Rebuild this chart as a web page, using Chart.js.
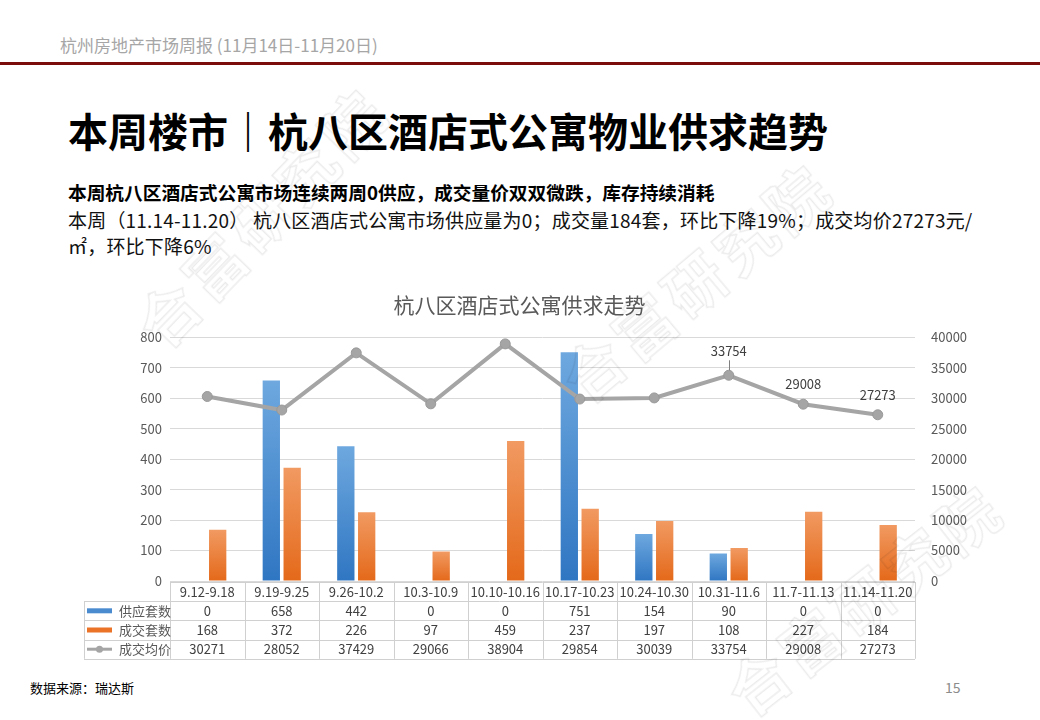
<!DOCTYPE html>
<html>
<head>
<meta charset="utf-8">
<script src="https://cdn.jsdelivr.net/npm/chart.js@4.4.0/dist/chart.umd.min.js"></script>
<style>
body{margin:0;width:1040px;height:720px;position:relative;overflow:hidden;background:#fff;font-family:"Noto Sans CJK SC","Microsoft YaHei",sans-serif;}
.t{position:absolute;white-space:nowrap;}
#head{left:60px;top:34px;font-size:17px;line-height:22px;color:#a6a6a6;}
#rule{position:absolute;left:0;top:62px;width:1040px;height:3px;background:#7a0c0c;}
#title{left:68px;top:104px;font-size:40px;line-height:52px;font-weight:bold;color:#000;}
#sub{left:68px;top:179px;font-size:18.7px;line-height:26px;font-weight:bold;color:#000;}
#body{left:68px;top:207px;font-size:19px;line-height:26px;letter-spacing:0.2px;color:#111;}
#src{left:30px;top:680px;font-size:13px;line-height:16px;color:#000;}
#page{left:945px;top:678px;font-size:14px;line-height:18px;color:#8c8c8c;}
#box{position:absolute;left:0;top:280px;width:1040px;height:390px;}
.wm{position:absolute;font-size:60px;font-weight:bold;color:rgba(255,255,255,0);-webkit-text-stroke:1.5px rgba(0,0,0,0.08);white-space:nowrap;letter-spacing:6px;pointer-events:none;z-index:5;}
</style>
</head>
<body>
<div class="t" id="head">杭州房地产市场周报 (11月14日-11月20日)</div>
<div id="rule"></div>
<div class="t" id="title">本周楼市｜杭八区酒店式公寓物业供求趋势</div>
<div class="t" id="sub">本周杭八区酒店式公寓市场连续两周0供应，成交量价双双微跌，库存持续消耗</div>
<div class="t" id="body">本周（11.14-11.20） 杭八区酒店式公寓市场供应量为0；成交量184套，环比下降19%；成交均价27273元/<br>㎡，环比下降6%</div>
<div id="box"><canvas id="myChart"></canvas></div>
<div class="t" id="src">数据来源：瑞达斯</div>
<div class="t" id="page">15</div>
<div class="wm" style="left:260px;top:215px;transform:translate(-50%,-50%) rotate(-46deg);">合富研究院</div>
<div class="wm" style="left:695px;top:280px;transform:translate(-50%,-50%) rotate(-40deg);">合富研究院</div>
<div class="wm" style="left:863px;top:597px;transform:translate(-50%,-50%) rotate(-38deg);">合富研究院</div>
<script>
// 周度数据
const categories = ["9.12-9.18", "9.19-9.25", "9.26-10.2", "10.3-10.9", "10.10-10.16", "10.17-10.23", "10.24-10.30", "10.31-11.6", "11.7-11.13", "11.14-11.20"];
const supplyUnits = [0, 658, 442, 0, 0, 751, 154, 90, 0, 0];
const dealUnits = [168, 372, 226, 97, 459, 237, 197, 108, 227, 184];
const avgPrice = [30271, 28052, 37429, 29066, 38904, 29854, 30039, 33754, 29008, 27273];
const seriesNames = ["供应套数", "成交套数", "成交均价"];
const labelledPoints = [7, 8, 9];

const FONT = "'Noto Sans CJK SC', 'Microsoft YaHei', sans-serif";
const ORANGE = "#ea7328", GREY = "#a5a5a5";

// 每根柱子上浅下深的渐变
function barFill(top, bottom) {
    return function (c) {
        const chart = c.chart, a = chart.chartArea;
        if (!a || !c.raw) return bottom;
        const y = chart.scales.y.getPixelForValue(c.raw);
        const g = chart.ctx.createLinearGradient(0, y, 0, a.bottom);
        g.addColorStop(0, top);
        g.addColorStop(1, bottom);
        return g;
    };
}

// 图表下方的数据表
const tablePlugin = {
    id: "dataTable",
    afterDraw(chart) {
        const ctx = chart.ctx, a = chart.chartArea;
        const n = categories.length;
        const w = (a.right - a.left) / n;
        const rowH = 19.2;
        const top = a.bottom + 1;
        const left = 84;
        const px = v => Math.round(v) + 0.5;
        ctx.save();
        ctx.strokeStyle = "#d0d0d0";
        ctx.lineWidth = 1;
        ctx.beginPath();
        for (let r = 0; r <= 4; r++) {
            const y = px(top + r * rowH);
            ctx.moveTo(r === 0 ? a.left : left, y);
            ctx.lineTo(a.right, y);
        }
        ctx.moveTo(px(left), top + rowH);
        ctx.lineTo(px(left), top + 4 * rowH);
        for (let i = 0; i <= n; i++) {
            const x = px(a.left + i * w);
            ctx.moveTo(x, top);
            ctx.lineTo(x, top + 4 * rowH);
        }
        ctx.stroke();

        ctx.font = "13px " + FONT;
        ctx.textBaseline = "middle";
        ctx.textAlign = "center";
        ctx.fillStyle = "#404040";
        const rows = [categories, supplyUnits, dealUnits, avgPrice];
        rows.forEach((vals, r) => {
            const y = top + r * rowH + rowH / 2;
            vals.forEach((v, i) => {
                ctx.fillText(String(v), chart.scales.x.getPixelForValue(i), y);
            });
        });

        // 图例
        ctx.textAlign = "left";
        seriesNames.forEach((name, k) => {
            const y = top + (k + 1) * rowH + rowH / 2;
            if (k < 2) {
                ctx.fillStyle = k === 0 ? "#4a8bd0" : ORANGE;
                ctx.fillRect(87, y - 2.5, 25, 5);
            } else {
                ctx.strokeStyle = GREY;
                ctx.lineWidth = 3;
                ctx.beginPath();
                ctx.moveTo(87, y);
                ctx.lineTo(112, y);
                ctx.stroke();
                ctx.fillStyle = GREY;
                ctx.beginPath();
                ctx.arc(99.5, y, 3.5, 0, Math.PI * 2);
                ctx.fill();
            }
            ctx.fillStyle = "#595959";
            ctx.fillText(name, 119, y);
        });
        ctx.restore();
    }
};

// 最后三周均价标签
const priceLabels = {
    id: "priceLabels",
    afterDatasetsDraw(chart) {
        const ctx = chart.ctx;
        const meta = chart.getDatasetMeta(2);
        ctx.save();
        ctx.font = "13px " + FONT;
        ctx.fillStyle = "#404040";
        ctx.textAlign = "center";
        ctx.textBaseline = "middle";
        labelledPoints.forEach((i, k) => {
            const pt = meta.data[i];
            let off = 20;
            if (k === 0) {
                off = 24;
                ctx.strokeStyle = "#808080";
                ctx.lineWidth = 1;
                ctx.beginPath();
                ctx.moveTo(Math.round(pt.x) + 0.5, pt.y - 15);
                ctx.lineTo(Math.round(pt.x) + 0.5, pt.y - 5);
                ctx.stroke();
            }
            ctx.fillText(String(avgPrice[i]), pt.x, pt.y - off);
        });
        ctx.restore();
    }
};

const data = {
    labels: categories,
    datasets: [
        {
            type: "bar",
            label: seriesNames[0],
            data: supplyUnits,
            yAxisID: "y",
            backgroundColor: barFill("#6ea8df", "#2f76c2"),
            categoryPercentage: 0.56,
            barPercentage: 0.83,
            order: 2
        },
        {
            type: "bar",
            label: seriesNames[1],
            data: dealUnits,
            yAxisID: "y",
            backgroundColor: barFill("#f19a62", "#e4691a"),
            categoryPercentage: 0.56,
            barPercentage: 0.83,
            order: 2
        },
        {
            type: "line",
            label: seriesNames[2],
            data: avgPrice,
            yAxisID: "y1",
            borderColor: GREY,
            borderWidth: 4,
            pointRadius: 5,
            pointBackgroundColor: GREY,
            pointBorderColor: "#999999",
            pointBorderWidth: 1,
            tension: 0,
            order: 0
        }
    ]
};

const tickStyle = {
    color: "#595959",
    font: { size: 13, family: FONT },
    padding: 8,
    callback: v => String(v)
};

const config = {
    data: data,
    options: {
        responsive: true,
        maintainAspectRatio: false,
        animation: false,
        layout: { padding: { left: 64, right: 65, top: 0, bottom: 9 } },
        plugins: {
            legend: { display: false },
            tooltip: { enabled: false },
            title: {
                display: true,
                text: "杭八区酒店式公寓供求走势",
                color: "#595959",
                font: { size: 21, family: FONT, weight: "normal" },
                padding: { top: 12, bottom: 20 }
            }
        },
        scales: {
            x: {
                grid: { display: false },
                border: { display: false },
                ticks: { display: false },
                afterFit(s) { s.height = 80; }
            },
            y: {
                position: "left",
                min: 0,
                max: 800,
                ticks: Object.assign({ stepSize: 100 }, tickStyle),
                grid: { color: "#d9d9d9", drawTicks: false },
                border: { display: false },
                afterFit(s) { s.width = 106; }
            },
            y1: {
                position: "right",
                min: 0,
                max: 40000,
                ticks: Object.assign({ stepSize: 5000 }, tickStyle),
                grid: { display: false },
                border: { display: false },
                afterFit(s) { s.width = 60; }
            }
        }
    },
    plugins: [tablePlugin, priceLabels]
};

window.onload = function () {
    new Chart(document.getElementById("myChart"), config);
};
</script>
</body>
</html>
